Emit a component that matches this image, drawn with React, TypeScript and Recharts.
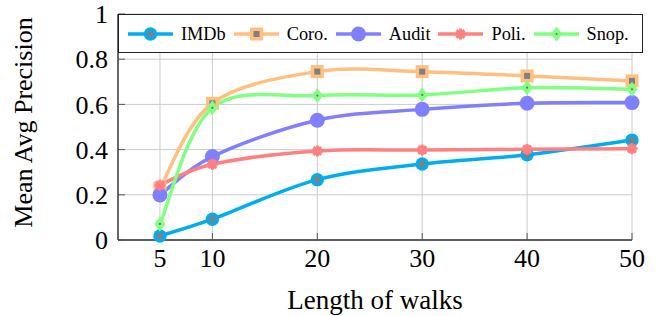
import React from 'react';
import { LineChart, Line, XAxis, YAxis, CartesianGrid } from 'recharts';

const walkLengths = [5, 10, 20, 30, 40, 50];
const imdb = [0.018, 0.092, 0.267, 0.336, 0.377, 0.442];
const coro = [0.23, 0.605, 0.745, 0.745, 0.726, 0.704];
const audit = [0.199, 0.369, 0.53, 0.578, 0.605, 0.608];
const poli = [0.243, 0.335, 0.394, 0.398, 0.401, 0.404];
const snop = [0.071, 0.585, 0.639, 0.642, 0.674, 0.667];
const yTicks = [0, 0.2, 0.4, 0.6, 0.8, 1];
const yTickLabels = ['0', '0.2', '0.4', '0.6', '0.8', '1'];

type Kind = 'imdb' | 'coro' | 'audit' | 'poli' | 'snop';
const series: { name: string; key: string; values: number[]; color: string; kind: Kind }[] = [
  { name: 'IMDb', key: 'imdb', values: imdb, color: '#00ADEF', kind: 'imdb' },
  { name: 'Coro.', key: 'coro', values: coro, color: '#FFBF80', kind: 'coro' },
  { name: 'Audit', key: 'audit', values: audit, color: '#8080FF', kind: 'audit' },
  { name: 'Poli.', key: 'poli', values: poli, color: '#FF8080', kind: 'poli' },
  { name: 'Snop.', key: 'snop', values: snop, color: '#80FF80', kind: 'snop' },
];

const data = walkLengths.map((w, i) => {
  const row: Record<string, number> = { w };
  series.forEach((s) => (row[s.key] = s.values[i]));
  return row;
});

const FONT = '"Liberation Serif", "Times New Roman", serif';

// cardinal (Catmull-Rom like) curve similar to TikZ "smooth"
const smoothCurve: any = (context: any) => {
  let pts: number[][] = [];
  const k = 1 / 6;
  return {
    areaStart() {},
    areaEnd() {},
    lineStart() {
      pts = [];
    },
    point(x: number, y: number) {
      pts.push([+x, +y]);
    },
    lineEnd() {
      const n = pts.length;
      if (!n) return;
      context.moveTo(pts[0][0], pts[0][1]);
      for (let i = 0; i < n - 1; i++) {
        const p0 = pts[Math.max(i - 1, 0)];
        const p1 = pts[i];
        const p2 = pts[i + 1];
        const p3 = pts[Math.min(i + 2, n - 1)];
        context.bezierCurveTo(
          p1[0] + (p2[0] - p0[0]) * k,
          p1[1] + (p2[1] - p0[1]) * k,
          p2[0] - (p3[0] - p1[0]) * k,
          p2[1] - (p3[1] - p1[1]) * k,
          p2[0],
          p2[1]
        );
      }
    },
  };
};

function Marker({ kind, cx, cy, color }: { kind: Kind; cx: number; cy: number; color: string }) {
  if (cx == null || cy == null || isNaN(cx) || isNaN(cy)) return <g />;
  switch (kind) {
    case 'imdb':
      return (
        <g>
          <circle cx={cx} cy={cy} r={6.7} fill={color} />
          <circle cx={cx} cy={cy} r={3.2} fill="#808080" />
        </g>
      );
    case 'coro':
      return (
        <g>
          <rect x={cx - 6.5} y={cy - 6.5} width={13} height={13} fill={color} />
          <rect x={cx - 3} y={cy - 3} width={6} height={6} fill="#808080" />
        </g>
      );
    case 'audit':
      return <circle cx={cx} cy={cy} r={7.5} fill={color} />;
    case 'poli': {
      const arms = [0, 45, 90, 135].map((a) => {
        const r = (a * Math.PI) / 180;
        return (
          <line
            key={a}
            x1={cx - 5.5 * Math.cos(r)}
            y1={cy - 5.5 * Math.sin(r)}
            x2={cx + 5.5 * Math.cos(r)}
            y2={cy + 5.5 * Math.sin(r)}
            stroke={color}
            strokeWidth={3}
          />
        );
      });
      return (
        <g>
          {arms}
          <circle cx={cx} cy={cy} r={4.2} fill={color} />
        </g>
      );
    }
    case 'snop':
      return (
        <g>
          <polygon
            points={`${cx},${cy - 7.5} ${cx + 5.5},${cy} ${cx},${cy + 7.5} ${cx - 5.5},${cy}`}
            fill={color}
          />
          <circle cx={cx} cy={cy} r={1.1} fill="#707070" />
        </g>
      );
  }
  return <g />;
}

function LegendBox() {
  return (
    <div
      style={{
        position: 'absolute',
        left: 118,
        top: 14,
        width: 525,
        height: 39,
        boxSizing: 'border-box',
        border: '1.2px solid #222',
        background: '#fff',
        display: 'flex',
        alignItems: 'center',
        paddingLeft: 9,
        fontFamily: FONT,
        fontSize: 18.3,
        color: '#000',
      }}
    >
      {series.map((s) => (
        <div key={s.key} style={{ display: 'flex', alignItems: 'center', marginRight: 8 }}>
          <svg width={45} height={20} style={{ display: 'block' }}>
            <line x1={0} y1={10} x2={45} y2={10} stroke={s.color} strokeWidth={3.5} />
            <Marker kind={s.kind} cx={22.5} cy={10} color={s.color} />
          </svg>
          <span style={{ marginLeft: 8, lineHeight: '20px' }}>{s.name}</span>
        </div>
      ))}
    </div>
  );
}

export default function App() {
  return (
    <div style={{ position: 'absolute', left: 0, top: 0, width: 661, height: 316, background: '#fff' }}>
      <LineChart
        width={661}
        height={316}
        data={data}
        margin={{ top: 14, right: 29, bottom: 0, left: 0 }}
      >
        <CartesianGrid stroke="#cccccc" strokeWidth={1} />
        <XAxis
          dataKey="w"
          type="number"
          domain={[1, 50]}
          ticks={walkLengths}
          height={76}
          tickSize={-7}
          tickMargin={15.5}
          tickLine={{ stroke: '#555', strokeWidth: 1 }}
          axisLine={{ stroke: '#333', strokeWidth: 1.4 }}
          tick={{ fill: '#000', fontSize: 26, fontFamily: FONT }}
          interval={0}
          label={{
            content: (props: any) => {
              const vb = props.viewBox || {};
              return (
                <text
                  x={vb.x + vb.width / 2}
                  y={308.5}
                  textAnchor="middle"
                  fontSize={27}
                  fontFamily={FONT}
                  fill="#000"
                >
                  Length of walks
                </text>
              );
            },
          }}
        />
        <YAxis
          type="number"
          domain={[0, 1]}
          ticks={yTicks}
          tickFormatter={(v: number) => yTickLabels[yTicks.indexOf(v)] ?? String(v)}
          width={118}
          tickSize={-7}
          tickMargin={17}
          tickLine={{ stroke: '#555', strokeWidth: 1 }}
          axisLine={{ stroke: '#333', strokeWidth: 1.4 }}
          tick={{ fill: '#000', fontSize: 26, fontFamily: FONT }}
          interval={0}
          label={{
            content: (props: any) => {
              const vb = props.viewBox || {};
              const cy = vb.y + vb.height / 2 - 4.5;
              return (
                <text
                  x={23}
                  y={cy}
                  transform={`rotate(-90, 23, ${cy})`}
                  textAnchor="middle"
                  dominantBaseline="central"
                  fontSize={26}
                  fontFamily={FONT}
                  fill="#000"
                >
                  Mean Avg Precision
                </text>
              );
            },
          }}
        />
        {series.map((s) => (
          <Line
            key={s.key}
            dataKey={s.key}
            name={s.name}
            type={smoothCurve}
            stroke={s.color}
            strokeWidth={3.5}
            isAnimationActive={false}
            dot={(p: any) => (
              <Marker key={`${s.key}-${p.index}`} kind={s.kind} cx={p.cx} cy={p.cy} color={s.color} />
            )}
            activeDot={false}
          />
        ))}
      </LineChart>
      <LegendBox />
    </div>
  );
}
